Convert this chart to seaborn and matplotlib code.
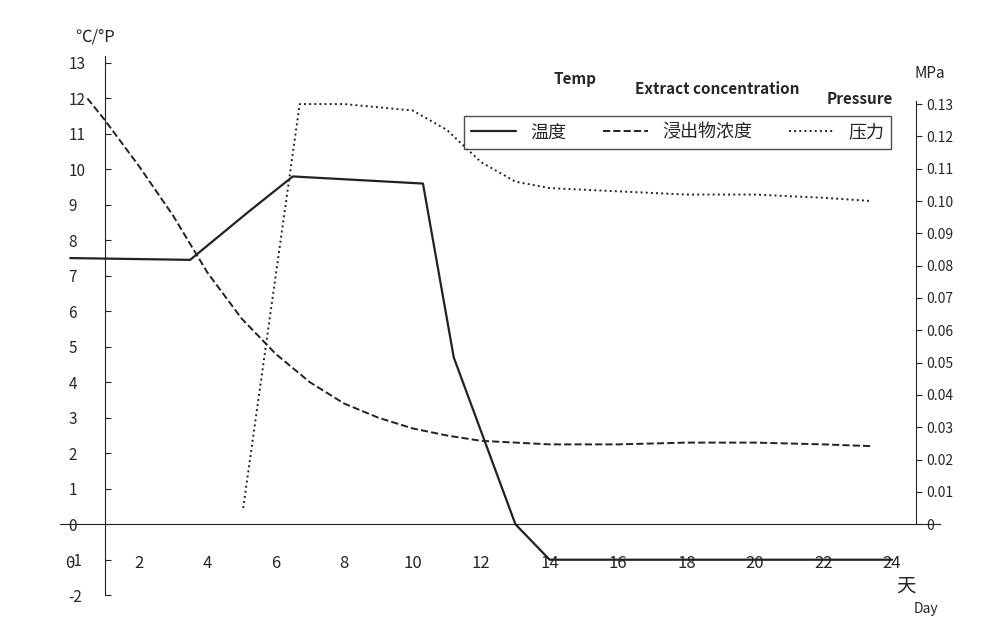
import matplotlib
matplotlib.use('Agg')
import matplotlib.pyplot as plt
import seaborn as sns

sns.set_style('white')
plt.rcParams['font.family'] = ['Noto Sans CJK SC', 'DejaVu Sans']

# temperature (°C)
temp_day = [0, 3.5, 5.2, 6.5, 10.3, 11.2, 13, 14, 24]
temp_val = [7.5, 7.45, 8.8, 9.8, 9.6, 4.7, 0, -1, -1]

# extract concentration (°P)
ext_day = [0.5, 1, 2, 3, 4, 5, 6, 7, 8, 9, 10, 11, 12, 13, 14, 16, 18, 20, 22, 23.4]
ext_val = [12.0, 11.4, 10.1, 8.7, 7.1, 5.8, 4.8, 4.0, 3.4, 3.0, 2.7, 2.5, 2.35, 2.3, 2.25, 2.25, 2.3, 2.3, 2.25, 2.2]

# pressure (MPa)
pr_day = [5.05, 6.7, 8, 10, 11, 12, 13, 14, 16, 18, 20, 22, 23.4]
pr_val = [0.005, 0.13, 0.13, 0.128, 0.122, 0.112, 0.106, 0.104, 0.103, 0.102, 0.102, 0.101, 0.100]

fig, ax = plt.subplots(figsize=(10, 6.2), dpi=100)
fig.subplots_adjust(left=0.06, right=0.94, top=0.91, bottom=0.04)

sns.lineplot(x=temp_day, y=temp_val, ax=ax, color='#222222', lw=1.6, label='温度')
sns.lineplot(x=ext_day, y=ext_val, ax=ax, color='#222222', lw=1.4, ls='--', label='浸出物浓度')

ylo, yhi = -2, 13.2
ax.set_xlim(-0.3, 25.4)
ax.set_ylim(ylo, yhi)
scale = 0.13 / 11.84

ax2 = ax.twinx()
ax2.plot(pr_day, pr_val, color='#222222', lw=1.4, ls=':', label='压力')
ax2.set_ylim(ylo * scale, yhi * scale)
ax2.set_yticks([i / 100 for i in range(0, 14)])
ax2.set_yticklabels(['0'] + [f'{i/100:.2f}' for i in range(1, 14)], fontsize=11)
ax2.spines['right'].set_position(('data', 24.7))
for s in ['top', 'left', 'bottom']:
    ax2.spines[s].set_visible(False)
ax2.spines['right'].set_bounds(0, 0.131)

ax.spines['left'].set_position(('data', 1))
ax.spines['bottom'].set_position(('data', 0))
ax.spines['top'].set_visible(False)
ax.spines['right'].set_visible(False)
ax.set_yticks(range(-2, 14))
ax.set_yticklabels([str(i) for i in range(-2, 14)], fontsize=11)
ax.tick_params(axis='y', direction='in', length=4, pad=26)
ax2.tick_params(axis='y', direction='out', length=4)
ax.set_xticks(range(0, 25, 2))
ax.set_xticklabels([str(i) for i in range(0, 25, 2)], fontsize=12)
ax.tick_params(axis='x', direction='in', length=5, pad=22)
for lab in ax.get_yticklabels():
    lab.set_horizontalalignment('left')
for s in ['left', 'bottom']:
    ax.spines[s].set_color('#222222')

h1, l1 = ax.get_legend_handles_labels()
h2, l2 = ax2.get_legend_handles_labels()
ax.legend_.remove()
ax2.legend(h1 + h2, l1 + l2, loc='upper right', bbox_to_anchor=(0.955, 0.905), ncol=3,
           fontsize=13, frameon=True, edgecolor='#222222', fancybox=False, handlelength=2.5)

ax.text(0.13, 13.6, '℃/°P', fontsize=12, ha='left')
fig.text(0.915, 0.875, 'MPa', fontsize=11, ha='left')
fig.text(0.575, 0.865, 'Temp', fontsize=11, fontweight='bold', ha='center')
fig.text(0.717, 0.848, 'Extract concentration', fontsize=11, fontweight='bold', ha='center')
fig.text(0.86, 0.832, 'Pressure', fontsize=11, fontweight='bold', ha='center')
ax.text(24.4, -1.9, '天', fontsize=14, ha='center')
ax.text(25.0, -2.5, 'Day', fontsize=10, ha='center')

fig.savefig('out.png', dpi=100)
